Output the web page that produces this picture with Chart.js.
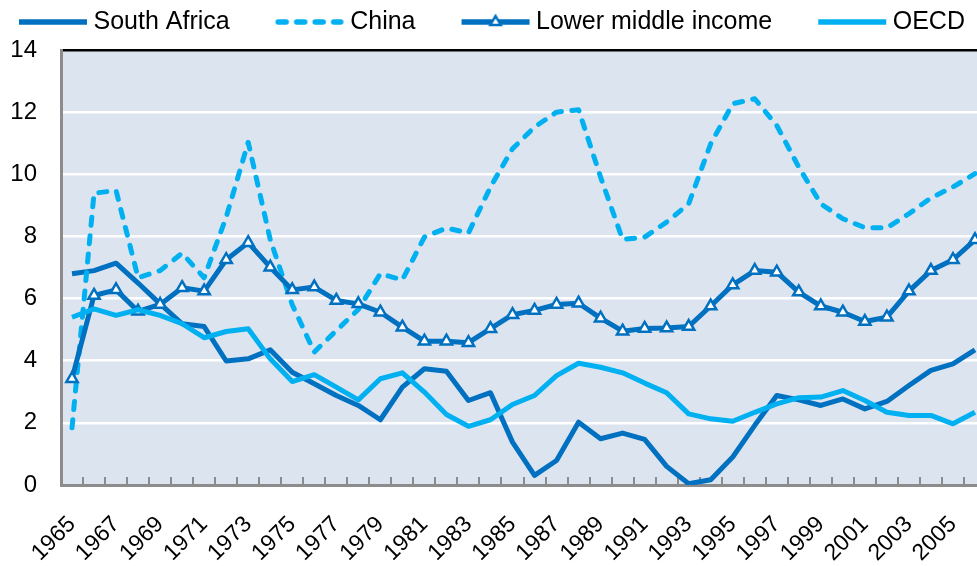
<!DOCTYPE html>
<html>
<head>
<meta charset="utf-8">
<script src="https://cdn.jsdelivr.net/npm/chart.js@4/dist/chart.umd.min.js"></script>
<style>
  html, body { margin: 0; padding: 0; background: #ffffff; overflow: hidden; width: 977px; height: 566px; }
  #wrap { position: absolute; left: 0; top: 0; width: 1100px; height: 566px; }
</style>
</head>
<body>
<div id="wrap"><canvas id="c" width="1100" height="566"></canvas></div>
<script>
const years = [1965,1966,1967,1968,1969,1970,1971,1972,1973,1974,1975,1976,1977,1978,1979,1980,1981,1982,1983,1984,1985,1986,1987,1988,1989,1990,1991,1992,1993,1994,1995,1996,1997,1998,1999,2000,2001,2002,2003,2004,2005,2006];
const southAfrica = [6.80,6.90,7.14,6.50,5.83,5.19,5.10,3.99,4.06,4.35,3.63,3.26,2.88,2.56,2.10,3.15,3.74,3.66,2.72,2.97,1.38,0.31,0.79,2.02,1.49,1.67,1.47,0.60,0.04,0.17,0.90,1.92,2.88,2.74,2.56,2.77,2.45,2.69,3.20,3.69,3.90,4.35];
const china = [1.84,9.39,9.48,6.67,6.90,7.46,6.67,8.62,11.03,7.90,5.80,4.28,4.97,5.65,6.80,6.60,7.98,8.27,8.11,9.59,10.82,11.52,12.00,12.08,9.91,7.90,7.98,8.46,9.05,10.98,12.27,12.43,11.57,10.23,9.05,8.57,8.28,8.28,8.73,9.24,9.59,10.02];
const lowerMiddle = [3.42,6.10,6.28,5.59,5.81,6.35,6.24,7.25,7.80,7.01,6.28,6.37,5.94,5.83,5.56,5.08,4.63,4.63,4.58,5.03,5.48,5.62,5.81,5.85,5.37,4.95,5.04,5.05,5.10,5.76,6.44,6.90,6.85,6.21,5.76,5.56,5.26,5.40,6.24,6.90,7.25,7.89];
const oecd = [5.40,5.67,5.46,5.64,5.46,5.19,4.74,4.94,5.03,4.06,3.33,3.55,3.15,2.74,3.42,3.61,2.99,2.27,1.89,2.10,2.59,2.88,3.52,3.92,3.79,3.61,3.28,2.97,2.29,2.13,2.05,2.34,2.61,2.81,2.83,3.04,2.72,2.34,2.24,2.24,1.97,2.34];
const seriesNames = ['South Africa','China','Lower middle income','OECD'];
const yTicks = [0,2,4,6,8,10,12,14];

const DARK = '#0070c0';
const LIGHT = '#00b0f0';
const FONT = "'Liberation Sans', Arial, sans-serif";

function makeSwatch(color, dash, triangle) {
  const cv = document.createElement('canvas');
  cv.width = 124; cv.height = 20;
  const g = cv.getContext('2d');
  g.strokeStyle = color;
  g.lineWidth = 5.5;
  if (dash) { g.setLineDash([8, 10.5]); g.lineCap = 'round'; g.beginPath(); g.moveTo(33.5, 10); g.lineTo(96, 10); g.stroke(); }
  else { g.beginPath(); g.moveTo(31, 10); g.lineTo(99, 10); g.stroke(); }
  if (triangle) {
    g.setLineDash([]);
    g.lineWidth = 2.5;
    g.fillStyle = '#ffffff';
    const cx = 65, cy = 10, r = 6;
    g.beginPath();
    g.moveTo(cx, cy - r);
    g.lineTo(cx + r * 0.866, cy + r * 0.5);
    g.lineTo(cx - r * 0.866, cy + r * 0.5);
    g.closePath();
    g.fill(); g.stroke();
  }
  return cv;
}
const swatches = [makeSwatch(DARK,false,false), makeSwatch(LIGHT,true,false), makeSwatch(DARK,false,true), makeSwatch(LIGHT,false,false)];

const LEG_PAD = 46;
const layoutFix = {
  id: 'layoutFix',
  afterLayout(chart) {
    const lg = chart.legend;
    if (!lg) return;
    const fontSize = 25;
    lg.top = 22 - LEG_PAD - fontSize / 2;
    const x0 = (lg.left + LEG_PAD + lg.right - lg.lineWidths[0]) / 2;
    const dx = 19 - x0;
    lg.left += dx; lg.right += dx;
  }
};
const plotBg = {
  id: 'plotBg',
  beforeDraw(chart) {
    const a = chart.chartArea, ctx = chart.ctx;
    ctx.save();
    ctx.fillStyle = '#dce4f0';
    ctx.fillRect(a.left, a.top, a.right - a.left, a.bottom - a.top);
    ctx.restore();
  },
  beforeDatasetsDraw(chart) {
    const xs = chart.scales.x, a = chart.chartArea, ctx = chart.ctx;
    ctx.save();
    ctx.strokeStyle = '#8c8c8c';
    ctx.lineWidth = 2;
    for (let i = 1; i < years.length; i++) {
      const x = Math.round(xs.getPixelForValue(i - 0.5));
      ctx.beginPath();
      ctx.moveTo(x, a.bottom - 8);
      ctx.lineTo(x, a.bottom);
      ctx.stroke();
    }
    ctx.restore();
  }
};

new Chart(document.getElementById('c'), {
  type: 'line',
  data: {
    labels: years,
    datasets: [
      { label: seriesNames[0], data: southAfrica, borderColor: DARK, backgroundColor: DARK, borderWidth: 5, pointRadius: 0, order: 4 },
      { label: seriesNames[1], data: china, borderColor: LIGHT, backgroundColor: LIGHT, borderWidth: 5, borderDash: [8, 10.5], borderCapStyle: 'round', pointRadius: 0, order: 3 },
      { label: seriesNames[2], data: lowerMiddle, borderColor: DARK, backgroundColor: '#ffffff', borderWidth: 5, pointStyle: 'triangle', pointRadius: 6.5, pointBorderWidth: 2.5, pointBackgroundColor: '#ffffff', pointBorderColor: DARK, order: 2 },
      { label: seriesNames[3], data: oecd, borderColor: LIGHT, backgroundColor: LIGHT, borderWidth: 5, pointRadius: 0, order: 1 }
    ]
  },
  options: {
    responsive: false,
    animation: false,
    devicePixelRatio: 1,
    layout: { padding: 0 },
    elements: { line: { tension: 0, borderJoinStyle: 'round' } },
    plugins: {
      tooltip: { enabled: false },
      legend: {
        position: 'top',
        reverse: true,
        maxHeight: 50,
        labels: {
          usePointStyle: true,
          pointStyleWidth: 62,
          padding: LEG_PAD,
          color: '#000000',
          font: { family: FONT, size: 25 },
          generateLabels(chart) {
            const items = Chart.defaults.plugins.legend.labels.generateLabels(chart);
            items.forEach(it => { it.pointStyle = swatches[it.datasetIndex]; });
            return items;
          }
        }
      }
    },
    scales: {
      x: {
        type: 'category',
        offset: true,
        grid: { display: false, drawTicks: false },
        border: { display: true, color: '#8c8c8c', width: 3 },
        ticks: {
          autoSkip: false,
          maxRotation: 45,
          minRotation: 45,
          padding: 26,
          color: '#000000',
          font: { family: FONT, size: 23 },
          callback(value, index) { return index % 2 === 0 ? String(years[index]) : ''; }
        },
        afterFit(s) { s.height = 81; s.paddingLeft = 0; s.paddingRight = 0; }
      },
      y: {
        min: 0, max: 14,
        afterBuildTicks(s) { s.ticks = yTicks.map(v => ({ value: v })); },
        grid: {
          drawTicks: false,
          color(c) { return c.tick && c.tick.value === 14 ? '#000000' : (c.tick && c.tick.value === 0 ? 'rgba(0,0,0,0)' : '#ffffff'); },
          lineWidth: 2.5
        },
        border: { display: true, color: '#8c8c8c', width: 3 },
        ticks: { padding: 24, color: '#000000', font: { family: FONT, size: 24 } },
        afterFit(s) { s.width = 61; }
      },
      y2: {
        position: 'right',
        display: true,
        grid: { display: false, drawTicks: false },
        border: { display: false },
        ticks: { display: false },
        afterFit(s) { s.width = 1100 - 986; }
      }
    }
  },
  plugins: [layoutFix, plotBg]
});
</script>
</body>
</html>
